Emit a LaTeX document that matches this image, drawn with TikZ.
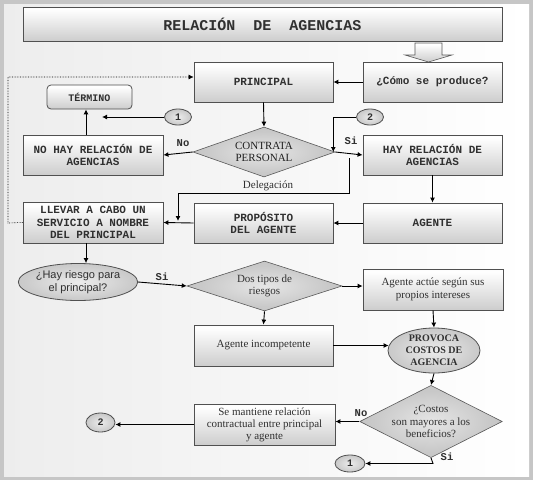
\documentclass[tikz,border=0pt]{standalone}
\usepackage{fontspec}
\setmainfont{Liberation Serif}
\setsansfont{Liberation Sans}
\setmonofont{Liberation Mono}
\usetikzlibrary{shapes.geometric,arrows.meta}
\pgfdeclareverticalshading{metal}{100bp}{color(0bp)=(gray!65); color(30bp)=(gray!35); color(72bp)=(white); color(92bp)=(gray!15); color(100bp)=(gray!45)}
\pgfdeclareradialshading{dia}{\pgfpoint{0bp}{0bp}}{color(0bp)=(gray!20); color(20bp)=(gray!42); color(50bp)=(gray!62)}
\pgfdeclareradialshading{ell}{\pgfpoint{0bp}{0bp}}{color(0bp)=(gray!15); color(22bp)=(gray!40); color(50bp)=(gray!60)}
\definecolor{edge}{HTML}{505050}
\definecolor{txt}{HTML}{303030}
\tikzset{
  x=1pt, y=-1pt,
  box/.style={draw=edge, line width=0.8pt, shading=metal, rectangle, inner sep=1pt, align=center,
    font=\ttfamily\bfseries\fontsize{11}{12.8}\selectfont, text=txt},
  sbox/.style={box, font=\rmfamily\fontsize{11}{13}\selectfont},
  dia/.style={draw=gray!70!black, line width=0.6pt, shading=dia, diamond, inner sep=0pt, align=center,
    font=\rmfamily\fontsize{11}{12.5}\selectfont},
  ell/.style={draw=edge, line width=0.8pt, shading=ell, ellipse, inner sep=0pt, align=center},
  num/.style={ell, font=\ttfamily\bfseries\fontsize{10}{12}\selectfont, text=txt},
  lab/.style={font=\ttfamily\bfseries\fontsize{10.5}{12}\selectfont, text=txt},
  arr/.style={line width=0.9pt, -{Latex[length=5pt,width=5pt]}},
}
\begin{document}
\begin{tikzpicture}
% background
\fill[gray!45] (0,0) rectangle (533,480);
\shade[left color=gray!14, right color=white] (4,4) rectangle (529,476);
\useasboundingbox (0,0) rectangle (533,480);

% title
\node[box, minimum width=479pt, minimum height=34pt, font=\ttfamily\bfseries\fontsize{15}{16}\selectfont] (title) at (262.5,24) {RELACIÓN\ \ DE\ \ AGENCIAS};
% block arrow
\shade[draw=gray!70!black, line width=0.6pt, shading=metal]
  (415,43) -- (442,43) -- (442,55) -- (452,55) -- (428.5,62) -- (405,55) -- (415,55) -- cycle;

% top row
\node[box, minimum width=139pt, minimum height=40pt] (principal) at (263.5,82) {PRINCIPAL};
\node[box, minimum width=139pt, minimum height=40pt] (como) at (432.5,82) {¿Cómo se produce?};
\node[box, rounded corners=4pt, minimum width=85pt, minimum height=24pt, font=\ttfamily\bfseries\fontsize{10}{11}\selectfont] (termino) at (89.5,97) {TÉRMINO};
\node[num, minimum width=27pt, minimum height=16pt] (c1a) at (178,117) {1};
\node[num, minimum width=27pt, minimum height=16pt] (c2a) at (370,117) {2};

\node[dia, minimum width=142pt, minimum height=50pt, aspect=2.84, text=gray!25!black] (contrata) at (264,152) {CONTRATA\\PERSONAL};
\node[box, minimum width=140pt, minimum height=40pt] (nohay) at (93,155) {NO HAY RELACIÓN DE\\AGENCIAS};
\node[box, minimum width=139pt, minimum height=40pt] (hay) at (432.5,155) {HAY RELACIÓN DE\\AGENCIAS};

\node[box, minimum width=140pt, minimum height=41pt] (llevar) at (93,222.5) {LLEVAR A CABO UN\\SERVICIO A NOMBRE\\DEL PRINCIPAL};
\node[box, minimum width=139pt, minimum height=40pt] (proposito) at (263.5,223) {PROPÓSITO\\DEL AGENTE};
\node[box, minimum width=139pt, minimum height=40pt] (agente) at (432.5,223) {AGENTE};

\node[ell, minimum width=110pt, minimum height=37pt, font=\sffamily\fontsize{11}{12.5}\selectfont, text=txt] (riesgo) at (78,282) {¿Hay riesgo para\\el principal?};
\node[dia, minimum width=155pt, minimum height=50pt, aspect=3.1, text=txt] (dos) at (264.5,286) {Dos tipos de\\riesgos};
\node[sbox, minimum width=140pt, minimum height=41pt] (actue) at (433,289.5) {Agente actúe según sus\\propios intereses};
\node[sbox, minimum width=139pt, minimum height=41pt] (incomp) at (263.5,345.5) {Agente incompetente};
\node[ell, minimum width=92pt, minimum height=45pt, font=\rmfamily\bfseries\fontsize{10}{12}\selectfont, text=txt] (provoca) at (434,350.5) {PROVOCA\\COSTOS DE\\AGENCIA};

\node[dia, minimum width=120pt, minimum height=61pt, aspect=1.97, text=txt, font=\rmfamily\fontsize{11}{12.5}\selectfont] (costos) at (431,421.5) {¿Costos\\son mayores a los\\beneficios?};
\node[sbox, minimum width=141pt, minimum height=41pt, font=\rmfamily\fontsize{11}{12}\selectfont] (mantiene) at (264.5,424.5) {Se mantiene relación\\contractual entre principal\\y agente};
\node[num, minimum width=29pt, minimum height=19pt] (c2b) at (100.5,422.5) {2};
\node[num, minimum width=30pt, minimum height=17pt] (c1b) at (350,463.5) {1};

% helper coordinates
\coordinate (tx) at (86,0);
\coordinate (c1end) at (102,117);
\coordinate (dstart) at (349,158);
\coordinate (d1) at (349,193);
\coordinate (d2) at (178,193);
\coordinate (dend) at (178,221);
\coordinate (p1) at (8,223);
\coordinate (p2) at (8,77);
\coordinate (b1) at (433,463.5);

% connectors
\draw[arr] (como.west) -- (principal.east);
\draw[arr] (principal.south) -- (contrata.north);
\draw[arr] (contrata.west) -- (nohay.east);
\draw[arr] (contrata.east) -- (hay.west);
\draw[arr] (nohay.north -| tx) -- (termino.south -| tx);
\draw[arr] (c1a.west) -- (c1end);
\draw[arr] (c2a.west) -| ([xshift=-2pt]contrata.east);
\draw[arr] (dstart) -- (d1) -- (d2) -- (dend);
\draw[arr] (hay.south) -- (agente.north);
\draw[arr] (agente.west) -- (proposito.east);
\draw[arr] (proposito.west) -- (llevar.east);
\draw[densely dotted, line width=0.6pt, -{Latex[length=5pt,width=5pt]}] (llevar.west) -- (p1) -- (p2) -- ([yshift=5pt]principal.west);
\draw[arr] (llevar.south -| tx) -- (riesgo.north -| tx);
\draw[arr] (riesgo.east) -- (dos.west);
\draw[arr] (dos.east) -- (dos.east -| actue.west);
\draw[arr] (dos.south) -- (incomp.north);
\draw[arr] (actue.south) -- (provoca.north);
\draw[arr] (incomp.east) -- ([xshift=1pt]provoca.west |- incomp.east);
\draw[arr] (provoca.south) -- (costos.north);
\draw[arr] (costos.west) -- (costos.west -| mantiene.east);
\draw[arr] (mantiene.west) -- (mantiene.west -| c2b.east);
\draw[arr] (costos.south) -- (b1) -- (c1b.east);

% labels
\node[lab] (lno1) at (183,143) {No};
\node[lab] (lsi1) at (351,141) {Si};
\node[font=\rmfamily\fontsize{11}{12}\selectfont, text=txt] (ldel) at (268,186) {Delegación};
\node[lab] (lsi2) at (162,277) {Si};
\node[lab] (lno2) at (361,413) {No};
\node[lab] (lsi3) at (447,457) {Si};
\end{tikzpicture}
\end{document}
